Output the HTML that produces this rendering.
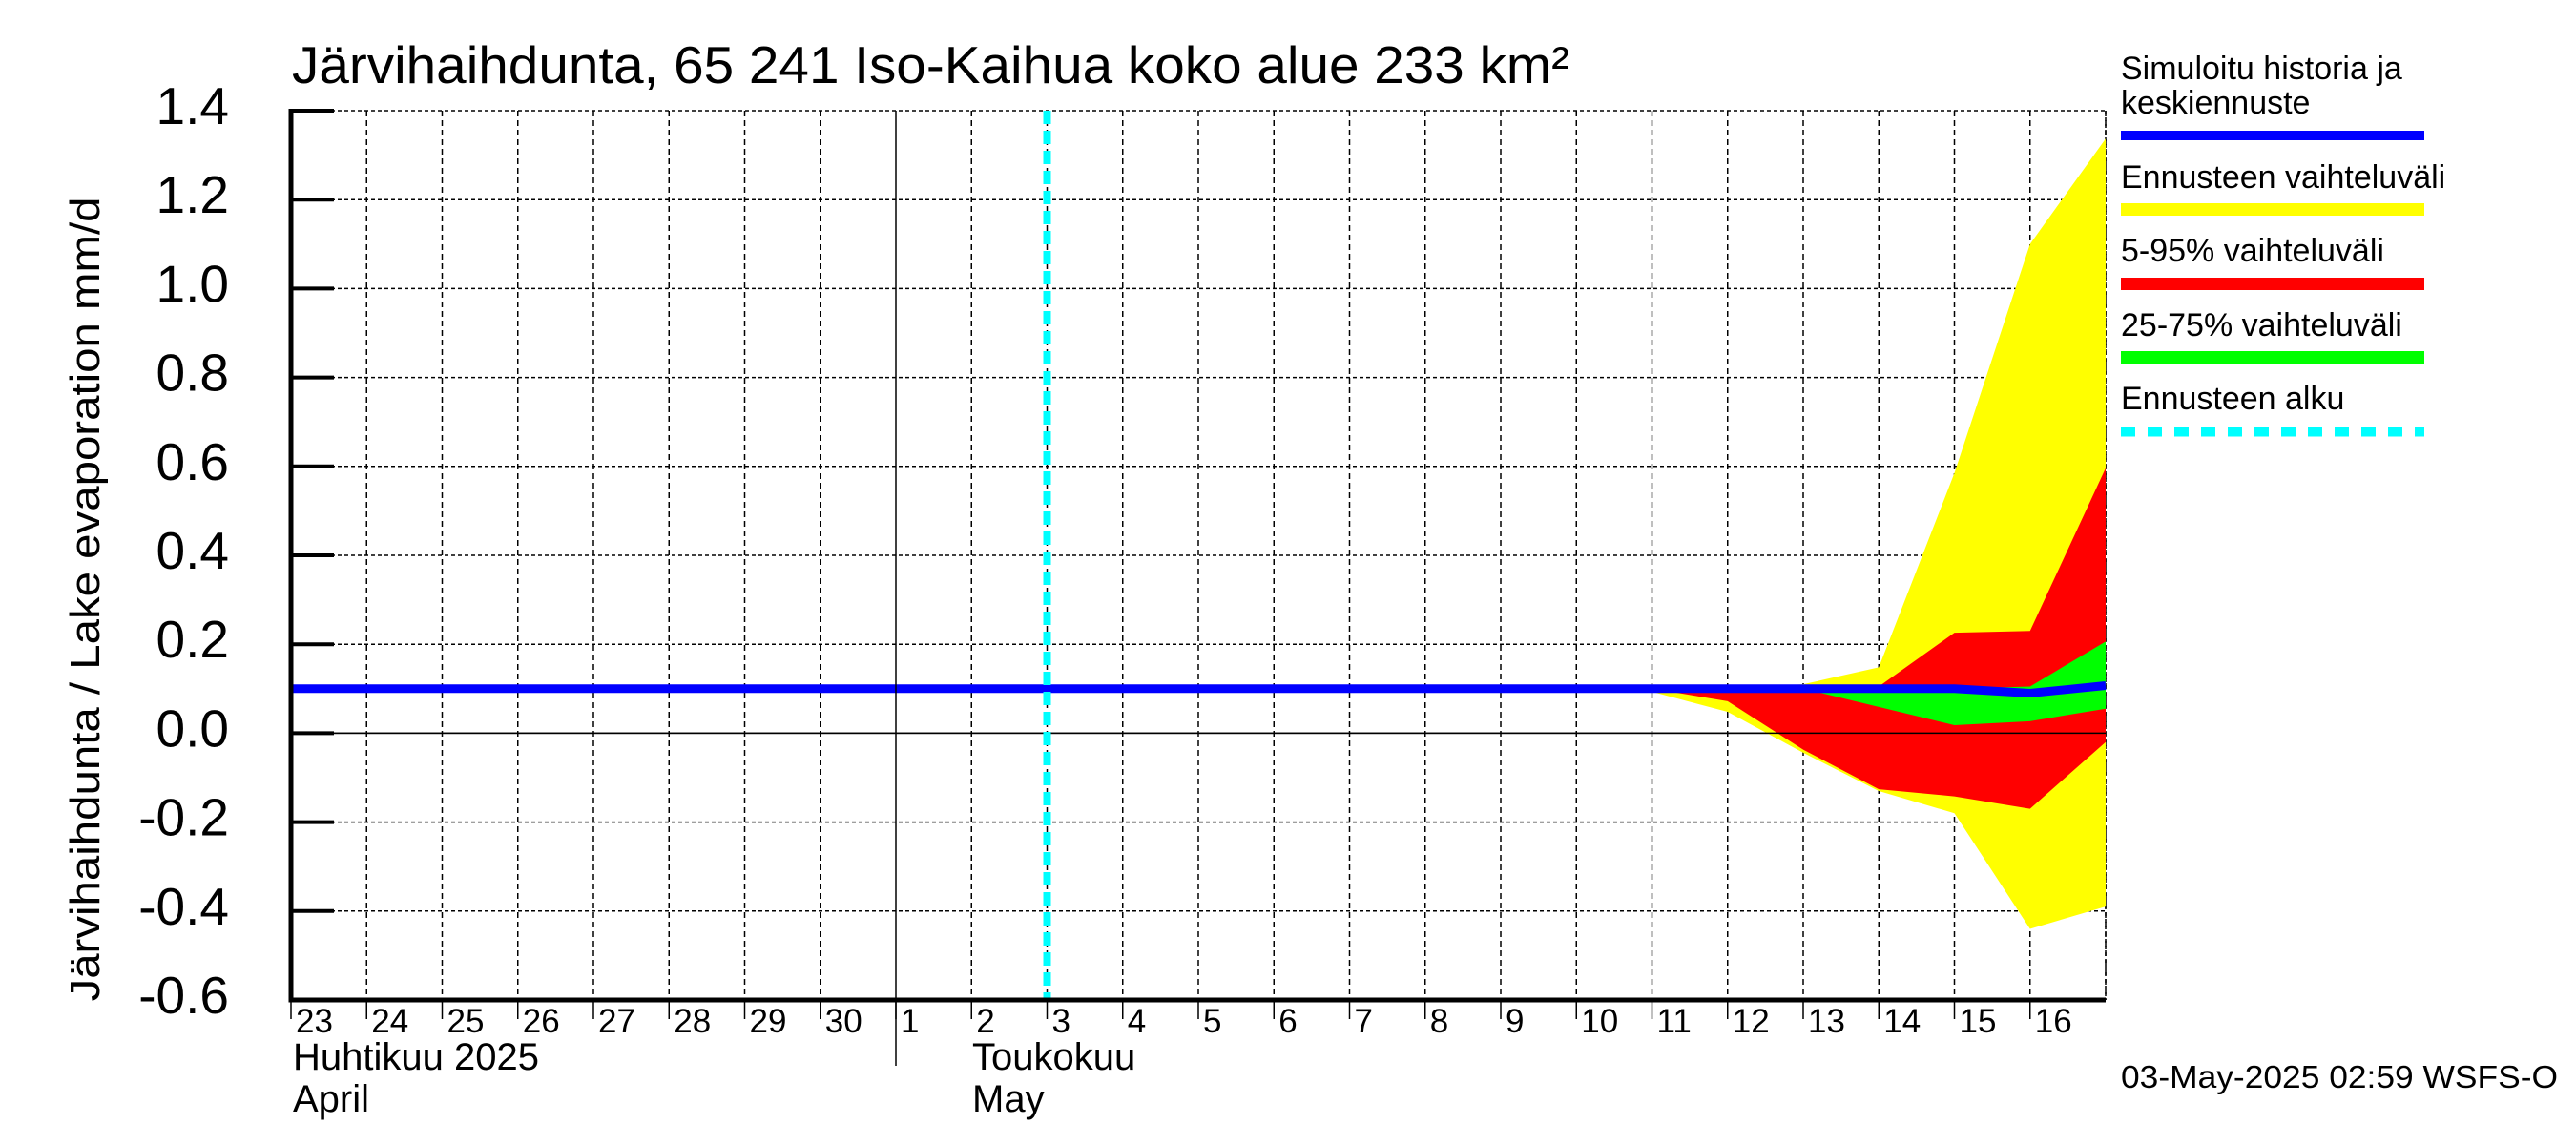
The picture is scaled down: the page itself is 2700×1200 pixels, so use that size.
<!DOCTYPE html>
<html><head><meta charset="utf-8">
<style>
html,body{margin:0;padding:0;background:#fff;}
svg{display:block;font-family:"Liberation Sans",Arial,sans-serif;}
</style></head>
<body>
<svg id="chart" width="2700" height="1200" viewBox="0 0 2700 1200" xmlns="http://www.w3.org/2000/svg">
<rect x="0" y="0" width="2700" height="1200" fill="#fff"/>
<g id="grid"></g>
<g id="bands"></g>
<g id="lines"></g>
<g id="axes"></g>
<text x="306" y="87" font-size="55" textLength="1339" lengthAdjust="spacingAndGlyphs">Järvihaihdunta, 65 241 Iso-Kaihua koko alue 233 km²</text>
<text transform="translate(104,628) rotate(-90)" text-anchor="middle" font-size="44" textLength="843" lengthAdjust="spacingAndGlyphs">Järvihaihdunta / Lake evaporation   mm/d</text>
<g id="legend"></g>
<text x="2223" y="1140" font-size="33" textLength="458" lengthAdjust="spacingAndGlyphs">03-May-2025 02:59 WSFS-O</text>
</svg>
<script>
const dayLabels = ["23","24","25","26","27","28","29","30","1","2","3","4","5","6","7","8","9","10","11","12","13","14","15","16"];
const yTicks = [-0.6,-0.4,-0.2,0.0,0.2,0.4,0.6,0.8,1.0,1.2,1.4];
const bandIdx = [18,19,20,21,22,23,24];
const yellowHi = [0.10,0.10,0.11,0.148,0.585,1.10,1.337];
const yellowLo = [0.093,0.048,-0.044,-0.13,-0.18,-0.44,-0.39];
const redHi = [0.10,0.10,0.10,0.105,0.226,0.23,0.596];
const redLo = [0.10,0.072,-0.037,-0.126,-0.142,-0.17,-0.02];
const greenHi = [0.10,0.10,0.10,0.10,0.10,0.105,0.206];
const greenLo = [0.10,0.10,0.10,0.059,0.018,0.027,0.055];
const blueVals = [0.1,0.1,0.1,0.1,0.1,0.1,0.1,0.1,0.1,0.1,0.1,0.1,0.1,0.1,0.1,0.1,0.1,0.1,0.1,0.1,0.1,0.1,0.1,0.09,0.107];
const forecastStart = 10;
const monthSplit = 8;

const NS = "http://www.w3.org/2000/svg";
const X0 = 305, X1 = 2207, Y0 = 1048, Y1 = 116, YMIN = -0.6, YMAX = 1.4;
const xs = i => X0 + (X1 - X0) * i / 24;
const ys = v => Y0 - (Y0 - Y1) * (v - YMIN) / (YMAX - YMIN);
function mk(tag, attrs, parent) {
  const e = document.createElementNS(NS, tag);
  for (const k in attrs) e.setAttribute(k, attrs[k]);
  parent.appendChild(e);
  return e;
}
const grid = document.getElementById('grid');
const bands = document.getElementById('bands');
const lines = document.getElementById('lines');
const axes = document.getElementById('axes');
const legend = document.getElementById('legend');

yTicks.forEach(v => {
  const l = mk('line', {x1: X0, x2: X1, y1: ys(v), y2: ys(v), stroke: '#000', 'stroke-width': 1.5, 'stroke-dasharray': Math.abs(v) < 1e-9 ? 'none' : '4,3'}, grid);
  
  
  const t = mk('line', {x1: X0, x2: X0 + 45, y1: ys(v), y2: ys(v), stroke: '#000', 'stroke-width': 4}, axes);
  
  
  const tx = mk('text', {x: 240, y: ys(v) + 14, 'text-anchor': 'end', 'font-size': 55, transform: ''}, axes);
  tx.textContent = v.toFixed(1);
  
  
});
for (let i = 1; i <= 24; i++) {
  if (i === monthSplit) continue;
  const l = mk('line', {x1: xs(i), x2: xs(i), y1: Y1, y2: Y0, stroke: '#000', 'stroke-width': 1.5, 'stroke-dasharray': '6,4'}, grid);
  
  
}
const ms = mk('line', {x1: xs(monthSplit), x2: xs(monthSplit), y1: Y1, y2: 1117, stroke: '#000', 'stroke-width': 1.5}, axes);


dayLabels.forEach((d, i) => {
  const t = mk('text', {x: xs(i) + 5, y: 1082, 'font-size': 35}, axes);
  t.textContent = d;
  
  
  const k = mk('line', {x1: xs(i), x2: xs(i), y1: Y0, y2: Y0 + 20, stroke: '#000', 'stroke-width': 1.5}, axes);
  
  
});
[["Huhtikuu  2025", 0, 1121], ["April", 0, 1165], ["Toukokuu", forecastStart - 2, 1121], ["May", forecastStart - 2, 1165]].forEach(m => {
  const t = mk('text', {x: xs(m[1]) + 2 + (m[1] ? 78 : 0), y: m[2], 'font-size': 40, 'xml:space': 'preserve'}, axes);
  t.textContent = m[0];
  
  
});

function band(hi, lo, color, name) {
  let pts = bandIdx.map((i, k) => xs(i) + ',' + ys(hi[k]));
  pts = pts.concat(bandIdx.slice().reverse().map((i, k) => xs(i) + ',' + ys(lo[lo.length - 1 - k])));
  const p = mk('polygon', {points: pts.join(' '), fill: color}, bands);
  
  
}
band(yellowHi, yellowLo, '#ffff00', 'band-full-range');
band(redHi, redLo, '#ff0000', 'band-5-95');
band(greenHi, greenLo, '#00ff00', 'band-25-75');

const zl = mk('line', {x1: X0, x2: X1, y1: ys(0), y2: ys(0), stroke: '#000', 'stroke-width': 1.5}, lines);


const bl = mk('polyline', {points: blueVals.map((v, i) => xs(i) + ',' + ys(v)).join(' '), fill: 'none', stroke: '#0000ff', 'stroke-width': 9}, lines);


const cy = mk('line', {x1: xs(forecastStart), x2: xs(forecastStart), y1: Y1, y2: Y0, stroke: '#00ffff', 'stroke-width': 8, 'stroke-dasharray': '14,7'}, lines);



const ax = mk('path', {d: `M${X0},${Y1 - 2} V${Y0} H${X1}`, fill: 'none', stroke: '#000', 'stroke-width': 5}, axes);


const rb = mk('line', {x1: X1, x2: X1, y1: Y1, y2: Y0, stroke: '#000', 'stroke-width': 1.5, 'stroke-dasharray': '4,3'}, grid);



const legItems = [
  [["Simuloitu historia ja", 83], ["keskiennuste", 119], '#0000ff', 142, 10, 'none', 'legend-median'],
  [["Ennusteen vaihteluväli", 197], null, '#ffff00', 219.5, 13, 'none', 'legend-full-range'],
  [["5-95% vaihteluväli", 274], null, '#ff0000', 297.5, 13, 'none', 'legend-5-95'],
  [["25-75% vaihteluväli", 352], null, '#00ff00', 375, 14, 'none', 'legend-25-75'],
  [["Ennusteen alku", 429], null, '#00ffff', 452.5, 10, '15,13', 'legend-forecast-start']
];
legItems.forEach(it => {
  const g = mk('g', {}, legend);
  
  
  [it[0], it[1]].forEach(tt => {
    if (!tt) return;
    const t = mk('text', {x: 2223, y: tt[1], 'font-size': 34}, g);
    t.textContent = tt[0];
    
    
  });
  const l = mk('line', {x1: 2223, x2: 2541, y1: it[3], y2: it[3], stroke: it[2], 'stroke-width': it[4], 'stroke-dasharray': it[5]}, g);
  
  
});
</script>
</body></html>
